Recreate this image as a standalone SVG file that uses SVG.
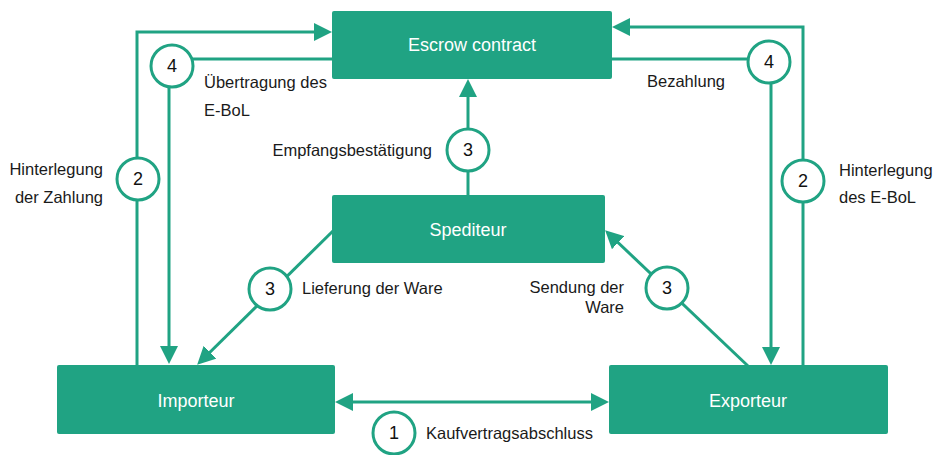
<svg xmlns="http://www.w3.org/2000/svg" width="934" height="455" viewBox="0 0 934 455">
  <style>
    .box { fill: #20a383; }
    .boxtext { fill: #ffffff; font-family: "Liberation Sans", Arial, sans-serif; font-size: 18px; text-anchor: middle; }
    .conn { fill: none; stroke: #20a383; stroke-width: 3; }
    .badge circle { fill: #ffffff; stroke: #20a383; stroke-width: 3; }
    .badge text { fill: #111111; font-family: "Liberation Sans", Arial, sans-serif; font-size: 18px; text-anchor: middle; }
    .label { fill: #1a1a1a; font-family: "Liberation Sans", Arial, sans-serif; font-size: 16.5px; }
    .end { text-anchor: end; }
  </style>
  <defs>
    <marker id="ah" viewBox="0 0 18 18" refX="14" refY="9" markerWidth="18" markerHeight="18" markerUnits="userSpaceOnUse" orient="auto-start-reverse">
      <path d="M0,0 L18,9 L0,18 z" fill="#20a383"/>
    </marker>
  </defs>

  <!-- connectors -->
  <g id="connectors">
    <!-- 1: purchase contract, both ways -->
    <path class="conn" d="M339,402 H605" marker-start="url(#ah)" marker-end="url(#ah)"/>
    <!-- 2: importer deposits payment -->
    <path class="conn" d="M137,366 V32 H328" marker-end="url(#ah)"/>
    <!-- 2: exporter deposits E-BoL -->
    <path class="conn" d="M803,366 V27 H616" marker-end="url(#ah)"/>
    <!-- 3: forwarder confirms receipt -->
    <path class="conn" d="M468,197 V83" marker-end="url(#ah)"/>
    <!-- 3: delivery of goods -->
    <path class="conn" d="M336,228 L200,362" marker-end="url(#ah)"/>
    <!-- 3: shipment of goods -->
    <path class="conn" d="M748,366 L608,233" marker-end="url(#ah)"/>
    <!-- 4: E-BoL transfer to importer -->
    <path class="conn" d="M334,59 H169 V360" marker-end="url(#ah)"/>
    <!-- 4: payment to exporter -->
    <path class="conn" d="M610,59 H771 V361" marker-end="url(#ah)"/>
  </g>

  <!-- nodes -->
  <g id="escrow">
    <rect class="box" x="332" y="11" width="280" height="68" rx="2"/>
    <text class="boxtext" x="472" y="51">Escrow contract</text>
  </g>
  <g id="spediteur">
    <rect class="box" x="332" y="195" width="273" height="68" rx="2"/>
    <text class="boxtext" x="468" y="236">Spediteur</text>
  </g>
  <g id="importeur">
    <rect class="box" x="57" y="365" width="278" height="69" rx="2"/>
    <text class="boxtext" x="196" y="407">Importeur</text>
  </g>
  <g id="exporteur">
    <rect class="box" x="609" y="365" width="279" height="69" rx="2"/>
    <text class="boxtext" x="748" y="407">Exporteur</text>
  </g>

  <!-- step badges -->
  <g id="step1" class="badge">
    <circle cx="394" cy="433" r="21"/>
    <text x="394" y="439">1</text>
  </g>
  <g id="step2-left" class="badge">
    <circle cx="138" cy="179" r="21"/>
    <text x="138" y="185">2</text>
  </g>
  <g id="step2-right" class="badge">
    <circle cx="803" cy="181" r="21"/>
    <text x="803" y="187">2</text>
  </g>
  <g id="step3-top" class="badge">
    <circle cx="468" cy="150" r="21"/>
    <text x="468" y="156">3</text>
  </g>
  <g id="step3-left" class="badge">
    <circle cx="270" cy="289" r="21"/>
    <text x="270" y="295">3</text>
  </g>
  <g id="step3-right" class="badge">
    <circle cx="667" cy="288" r="21"/>
    <text x="667" y="294">3</text>
  </g>
  <g id="step4-left" class="badge">
    <circle cx="172" cy="66" r="21"/>
    <text x="172" y="72">4</text>
  </g>
  <g id="step4-right" class="badge">
    <circle cx="769" cy="62" r="21"/>
    <text x="769" y="68">4</text>
  </g>

  <!-- step labels -->
  <g id="labels">
    <text class="label" x="426" y="439">Kaufvertragsabschluss</text>
    <text class="label end" x="103" y="175">Hinterlegung</text>
    <text class="label end" x="103" y="203">der Zahlung</text>
    <text class="label" x="839" y="176">Hinterlegung</text>
    <text class="label" x="839" y="203">des E-BoL</text>
    <text class="label end" x="432" y="156">Empfangsbestätigung</text>
    <text class="label" x="302" y="294">Lieferung der Ware</text>
    <text class="label end" x="624" y="293">Sendung der</text>
    <text class="label end" x="624" y="313">Ware</text>
    <text class="label" x="204" y="88">Übertragung des</text>
    <text class="label" x="204" y="116">E-BoL</text>
    <text class="label" x="647" y="87">Bezahlung</text>
  </g>
</svg>
